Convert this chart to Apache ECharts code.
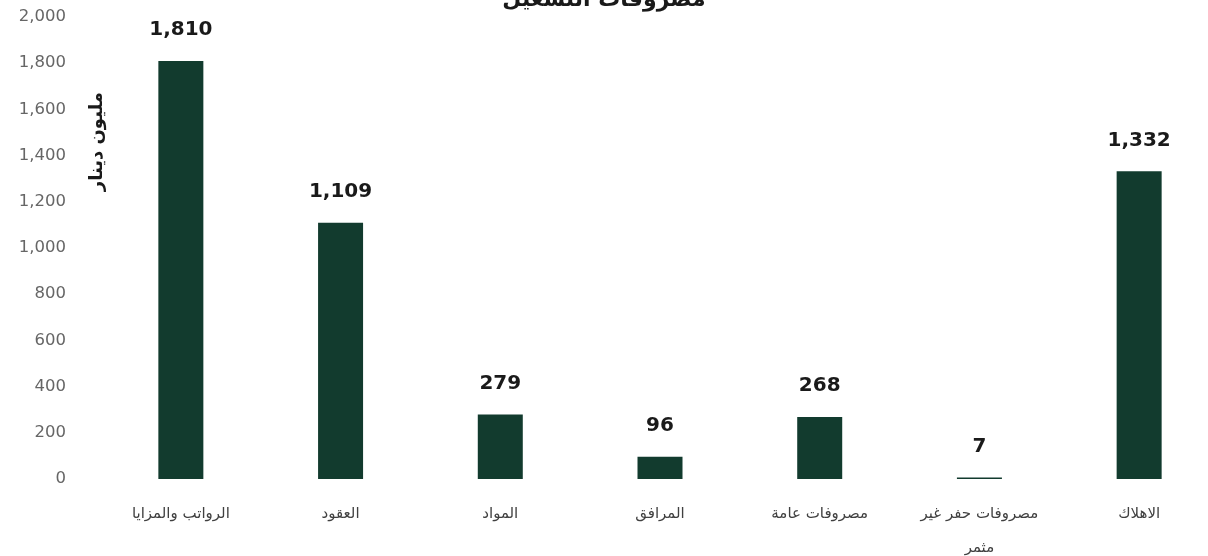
<!DOCTYPE html>
<html><head><meta charset="utf-8">
<script src="https://cdn.jsdelivr.net/npm/echarts@6/dist/echarts.min.js"></script>
<style>html,body{margin:0;padding:0;background:#fff}#c{width:1208px;height:556px}</style>
</head><body><div id="c"></div>
<script>
const titleText = 'مصروفات التشغيل';
const axisUnit = 'مليون دينار';
const categories = ['الرواتب والمزايا', 'العقود', 'المواد', 'المرافق', 'مصروفات عامة', 'مصروفات حفر غير مثمر', 'الاهلاك'];
const values = [1810, 1109, 279, 96, 268, 7, 1332];

function wrapLabel(s) {
  if (s.length <= 16) return s;
  const i = s.lastIndexOf(' ');
  return s.slice(0, i) + '\n' + s.slice(i + 1);
}

const chart = echarts.init(document.getElementById('c'));
chart.setOption({
  backgroundColor: '#ffffff',
  animation: false,
  title: {
    text: titleText, left: 'center', top: -16,
    textStyle: { fontFamily: 'DejaVu Sans', fontWeight: 'bold', fontSize: 22, color: '#1a1a1a' }
  },
  grid: { left: 101, width: 1118, top: 17, bottom: 77, outerBoundsMode: 'none', containLabel: false },
  xAxis: {
    type: 'category', data: categories,
    axisLine: { show: false }, axisTick: { show: false },
    axisLabel: {
      interval: 0, margin: 18, lineHeight: 34,
      fontFamily: 'DejaVu Sans', fontSize: 15, color: '#404040',
      formatter: wrapLabel
    }
  },
  yAxis: {
    type: 'value', min: 0, max: 2000, interval: 200,
    splitLine: { show: false }, axisLine: { show: false }, axisTick: { show: false },
    axisLabel: {
      margin: 35, fontFamily: 'DejaVu Sans', fontSize: 16.5, color: '#666666',
      formatter: v => v.toLocaleString('en-US')
    }
  },
  graphic: [{
    type: 'text', left: 88, top: 92, rotation: Math.PI / 2,
    style: { text: axisUnit, fontFamily: 'DejaVu Sans', fontWeight: 'bold', fontSize: 18, fill: '#1a1a1a' }
  }],
  series: [{
    type: 'bar', data: values, barWidth: 45,
    itemStyle: { color: '#123b2e' },
    label: {
      show: true, position: 'top', distance: 21,
      fontFamily: 'DejaVu Sans', fontWeight: 'bold', fontSize: 20, color: '#1a1a1a',
      formatter: p => p.value.toLocaleString('en-US')
    }
  }]
});
</script></body></html>
